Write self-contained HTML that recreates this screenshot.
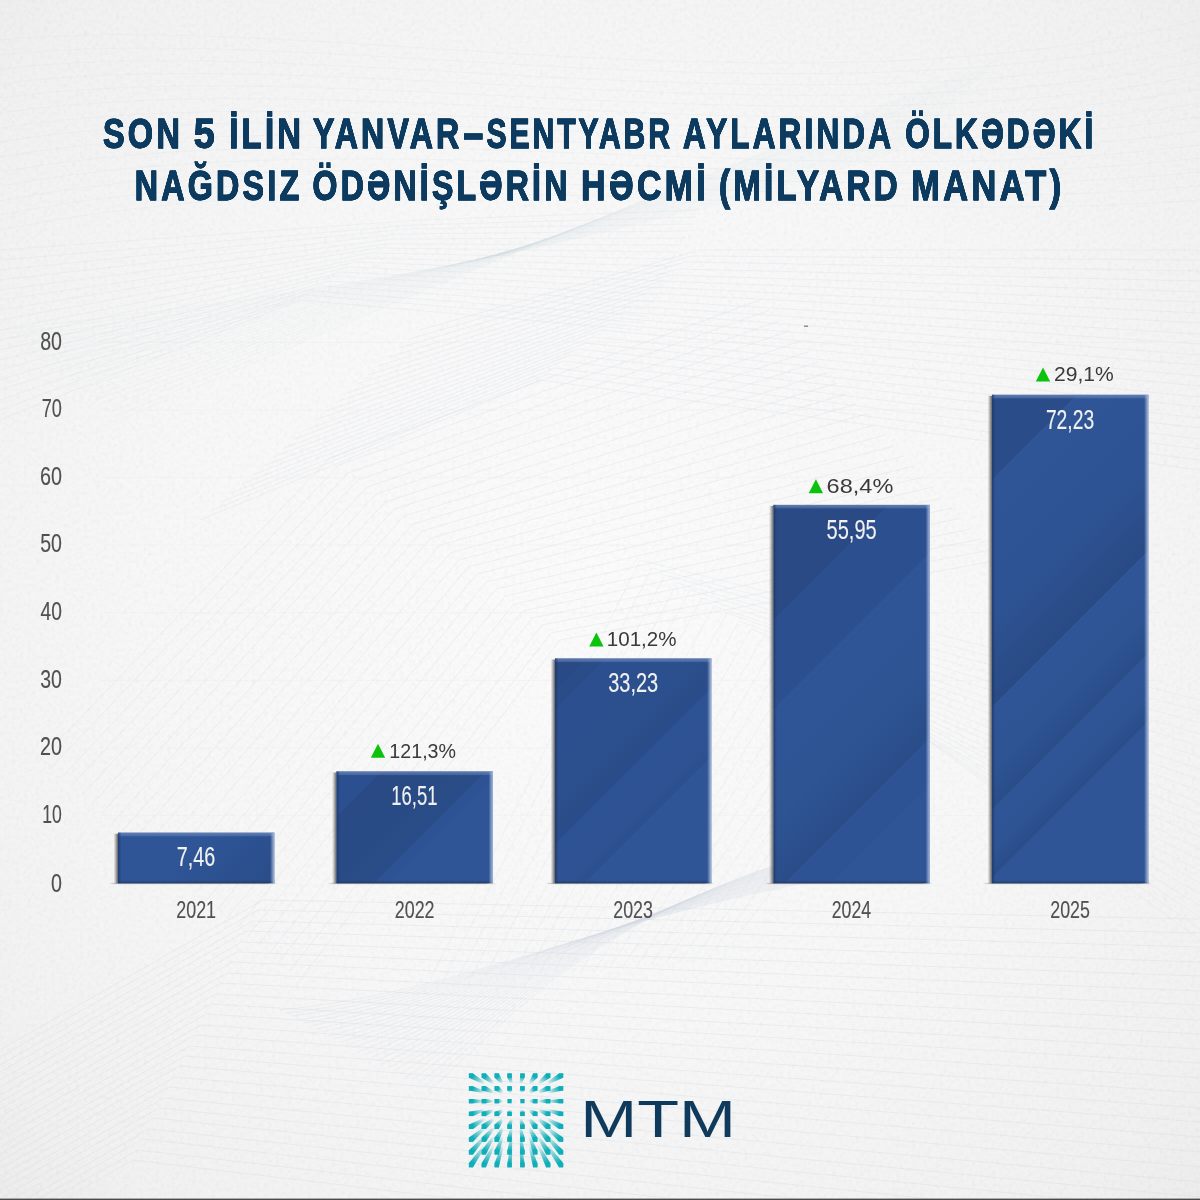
<!DOCTYPE html>
<html lang="az"><head><meta charset="utf-8"><title>Nağdsız ödənişlərin həcmi</title>
<style>
html,body{margin:0;padding:0;background:#f3f3f3;}
body{width:1200px;height:1200px;overflow:hidden;font-family:"Liberation Sans",sans-serif;}
svg{display:block}
text{font-family:"Liberation Sans",sans-serif}
.t{font-weight:700;fill:#0c3a5e;stroke:#0c3a5e;stroke-width:.8px;stroke-linejoin:miter}
.ax{fill:#505050;stroke:#505050;stroke-width:.15px}
.val{fill:#f1f1f1;stroke:#f1f1f1;stroke-width:.15px}
.pct{fill:#3a3a3a}
.logo{fill:#0f3a5b}
</style></head><body>
<svg width="1200" height="1200" viewBox="0 0 1200 1200">
<defs>
<radialGradient id="bg" cx="50%" cy="48%" r="75%">
<stop offset="0" stop-color="#fbfbfb"/><stop offset="0.5" stop-color="#f7f7f7"/><stop offset="0.85" stop-color="#f1f1f1"/><stop offset="1" stop-color="#ebebeb"/>
</radialGradient>
<linearGradient id="bevR" x1="0" x2="1" y1="0" y2="0"><stop offset="0" stop-color="#a9bbdd" stop-opacity="0"/><stop offset="1" stop-color="#a9bbdd" stop-opacity="1"/></linearGradient>
<linearGradient id="bevL" x1="0" x2="1" y1="0" y2="0"><stop offset="0" stop-color="#1b3566" stop-opacity=".75"/><stop offset="1" stop-color="#1b3566" stop-opacity="0"/></linearGradient>
<linearGradient id="bevT" x1="0" x2="0" y1="0" y2="1"><stop offset="0" stop-color="#6f8abb" stop-opacity=".8"/><stop offset="1" stop-color="#6f8abb" stop-opacity=".35"/></linearGradient>
<linearGradient id="bevB" x1="0" x2="0" y1="0" y2="1"><stop offset="0" stop-color="#1b3566" stop-opacity="0"/><stop offset="1" stop-color="#1b3566" stop-opacity=".7"/></linearGradient>
<linearGradient id="shL" x1="0" x2="1" y1="0" y2="0"><stop offset="0" stop-color="#4a4a4a" stop-opacity="0"/><stop offset=".35" stop-color="#4a4a4a" stop-opacity=".25"/><stop offset="1" stop-color="#4a4a4a" stop-opacity=".85"/></linearGradient>
<linearGradient id="base" x1="0" x2="1" y1="0" y2="0"><stop offset="0" stop-color="#777" stop-opacity="0"/><stop offset=".06" stop-color="#777" stop-opacity=".8"/><stop offset=".94" stop-color="#777" stop-opacity=".8"/><stop offset="1" stop-color="#777" stop-opacity="0"/></linearGradient>
<filter id="thick" x="-2%" y="-20%" width="104%" height="140%"><feOffset dx="0.4" result="a"/><feOffset in="SourceGraphic" dx="-0.4" result="b"/><feMerge><feMergeNode in="a"/><feMergeNode in="b"/><feMergeNode in="SourceGraphic"/></feMerge></filter>
<filter id="paper" x="0" y="0" width="100%" height="100%"><feTurbulence type="fractalNoise" baseFrequency="0.25" numOctaves="3" seed="7" result="n"/><feColorMatrix in="n" type="matrix" values="0 0 0 0 0  0 0 0 0 0  0 0 0 0 0  .4 .4 .4 0 -.5"/></filter>
</defs>
<rect width="1200" height="1200" fill="url(#bg)"/>
<rect width="1200" height="1200" filter="url(#paper)" opacity=".07"/>
<g fill="none" stroke="#d3dae2" stroke-width=".8">
<path d="M0 1050L263 900L1200 919M0 1057L258 910L1200 933M0 1065L253 921L1200 947M0 1072L247 931L1200 962M0 1080L242 942L1200 976M0 1087L237 952L1200 991M0 1095L232 962L1200 1005M0 1102L227 973L1200 1020M0 1109L221 983L1200 1034M0 1117L216 994L1200 1049M0 1124L211 1004L1200 1063M0 1132L206 1014L1200 1078M0 1139L201 1025L1200 1093M0 1147L195 1035L1200 1108M0 1154L190 1046L1200 1122M0 1161L185 1056L1200 1137M0 1169L180 1066L1200 1152M0 1176L175 1077L1200 1167M0 1184L169 1087L1200 1182M0 1191L164 1098L1200 1197M0 1199L159 1108L1200 1212M0 1206L154 1118L1200 1227M0 1214L149 1129L1200 1242M0 1221L143 1139L1200 1258M0 1228L138 1150L1200 1273M0 1236L133 1160L1200 1288" opacity=".45"/>
<path d="M40 760L330 458L760 300M50 769L339 465L770 310M61 778L348 473L779 321M71 786L358 480L789 331M82 795L367 487L798 342M92 804L376 494L808 352M102 813L385 502L818 362M113 822L394 509L827 373M123 830L404 516L837 383M134 839L413 524L846 394M144 848L422 531L856 404M154 857L431 538L866 414M165 866L440 545L875 425M175 874L450 553L885 435M186 883L459 560L894 446M196 892L468 567L904 456M206 901L477 574L914 466M217 910L486 582L923 477M227 918L496 589L933 487M238 927L505 596L942 498M248 936L514 604L952 508M258 945L523 611L962 518M269 954L532 618L971 529M279 962L542 625L981 539M290 971L551 633L990 550M300 980L560 640L1000 560" opacity="0.4"/>
<path d="M200 520L540 380L1200 470M210 511L548 374L1200 460M221 502L555 368L1200 449M231 493L563 361L1200 439M242 484L570 355L1200 428M252 475L578 349L1200 418M263 466L586 343L1200 407M273 457L593 337L1200 397M284 448L601 330L1200 386M294 439L609 324L1200 376M305 430L616 318L1200 365M315 420L624 312L1200 355M326 411L631 306L1200 344M336 402L639 300L1200 334M347 393L647 293L1200 323M357 384L654 287L1200 313M368 375L662 281L1200 302M378 366L670 275L1200 292M389 357L677 269L1200 281M399 348L685 262L1200 271M410 339L692 256L1200 260M420 330L700 250L1200 250" opacity="0.36"/>
<path d="M430 980L640 560L1200 700M444 979L652 568L1200 711M458 978L665 575L1200 723M471 977L677 583L1200 734M485 976L690 590L1200 746M499 975L702 598L1200 757M513 974L714 606L1200 769M527 973L727 613L1200 780M540 972L739 621L1200 791M554 971L751 629L1200 803M568 970L764 636L1200 814M582 970L776 644L1200 826M596 969L789 651L1200 837M610 968L801 659L1200 849M623 967L813 667L1200 860M637 966L826 674L1200 871M651 965L838 682L1200 883M665 964L850 690L1200 894M679 963L863 697L1200 906M692 962L875 705L1200 917M706 961L888 712L1200 929M720 960L900 720L1200 940" opacity="0.32"/>
<path d="M0 420L300 300L640 330M0 410L307 295L644 323M0 400L314 291L647 316M0 390L321 286L651 309M0 380L328 281L654 302M0 370L335 276L658 295M0 360L342 272L661 288M0 350L349 267L665 281M0 340L356 262L668 274M0 330L364 258L672 266M0 320L371 253L675 259M0 310L378 248L679 252M0 300L385 244L682 245M0 290L392 239L686 238M0 280L399 234L689 231M0 270L406 229L693 224M0 260L413 225L696 217M0 250L420 220L700 210" opacity="0.3"/>
<path d="M0 330C260 300 520 270 900 150M5 334C263 301 522 268 904 146M10 338C266 303 523 267 909 142M16 342C269 304 525 265 913 138M21 346C272 305 527 263 917 134M26 350C275 307 529 261 922 130M31 353C278 308 530 260 926 127M37 357C281 309 532 258 930 123M42 361C284 310 534 256 935 119M47 365C287 312 536 254 939 115M52 369C290 313 537 253 943 111M57 373C293 314 539 251 948 107M63 377C297 316 541 249 952 103M68 381C300 317 543 247 957 99M73 385C303 318 544 246 961 95M78 389C306 320 546 244 965 91M83 393C309 321 548 242 970 87M89 397C312 322 550 240 974 83M94 400C315 323 551 239 978 80M99 404C318 325 553 237 983 76M104 408C321 326 555 235 987 72M110 412C324 327 557 233 991 68M115 416C327 329 558 232 996 64M120 420C330 330 560 230 1000 60" opacity="0.22"/>
<path d="M280 1010C470 990 560 930 820 880M286 1013C472 991 562 929 823 878M292 1016C474 992 563 928 826 876M298 1020C476 992 565 926 830 874M304 1023C478 993 566 925 833 872M310 1026C480 994 568 924 836 870M316 1029C482 995 570 923 839 868M322 1032C484 996 571 922 842 866M328 1036C486 996 573 920 846 864M334 1039C488 997 574 919 849 862M340 1042C490 998 576 918 852 860M346 1045C492 999 578 917 855 858M352 1048C494 1000 579 916 858 856M358 1052C496 1000 581 914 862 854M364 1055C498 1001 582 913 865 852M370 1058C500 1002 584 912 868 850M376 1061C502 1003 586 911 871 848M382 1064C504 1004 587 910 874 846M388 1068C506 1004 589 908 878 844M394 1071C508 1005 590 907 881 842M400 1074C510 1006 592 906 884 840M406 1077C512 1007 594 905 887 838M412 1080C514 1008 595 904 890 836M418 1084C516 1008 597 902 894 834M424 1087C518 1009 598 901 897 832M430 1090C520 1010 600 900 900 830" opacity="0.4"/>
<path d="M0 40C300 10 800 120 1200 20M0 55C308 21 800 128 1200 34M0 69C315 32 800 137 1200 48M0 84C323 42 800 145 1200 62M0 98C331 53 800 154 1200 75M0 113C338 64 800 162 1200 89M0 128C346 75 800 171 1200 103M0 142C354 85 800 179 1200 117M0 157C362 96 800 188 1200 131M0 172C369 107 800 196 1200 145M0 186C377 118 800 205 1200 158M0 201C385 128 800 213 1200 172M0 215C392 139 800 222 1200 186M0 230C400 150 800 230 1200 200" opacity="0.25"/>
</g>
<g class="t" filter="url(#thick)">
<text transform="translate(102.92,147.60) scale(0.7741,1)" font-size="42.00" letter-spacing="4.20">SON</text>
<text transform="translate(193.67,147.60) scale(0.8997,1)" font-size="42.00">5</text>
<text transform="translate(229.18,147.60) scale(0.7821,1)" font-size="42.00" letter-spacing="4.20">İLİN</text>
<text transform="translate(313.04,147.60) scale(0.7642,1)" font-size="42.00" letter-spacing="4.20">YANVAR</text>
<text transform="translate(462.09,147.60) scale(1.6124,1)" font-size="42.00">-</text>
<text transform="translate(486.40,147.60) scale(0.7158,1)" font-size="42.00" letter-spacing="4.20">SENTYABR</text>
<text transform="translate(683.11,147.60) scale(0.7505,1)" font-size="42.00" letter-spacing="4.20">AYLARINDA</text>
<text transform="translate(905.14,147.60) scale(0.7482,1)" font-size="42.00" letter-spacing="4.20">ÖLKƏDƏKİ</text>
<text transform="translate(134.72,199.80) scale(0.7683,1)" font-size="42.00" letter-spacing="4.20">NAĞDSIZ</text>
<text transform="translate(312.62,199.80) scale(0.7627,1)" font-size="42.00" letter-spacing="4.20">ÖDƏNİŞLƏRİN</text>
<text transform="translate(581.12,199.80) scale(0.8060,1)" font-size="42.00" letter-spacing="4.20">HƏCMİ</text>
<text transform="translate(718.95,199.80) scale(0.7870,1)" font-size="42.00" letter-spacing="4.20">(MİLYARD</text>
<text transform="translate(911.28,199.80) scale(0.8168,1)" font-size="42.00" letter-spacing="4.20">MANAT)</text>
</g>
<g class="ax">
<text transform="translate(51.01,891.50) scale(0.7738,1)" font-size="25.44">0</text>
<text transform="translate(42.28,822.80) scale(0.6935,1)" font-size="25.44">10</text>
<text transform="translate(40.01,755.20) scale(0.7765,1)" font-size="25.44">20</text>
<text transform="translate(40.27,687.60) scale(0.7671,1)" font-size="25.44">30</text>
<text transform="translate(40.57,620.00) scale(0.7562,1)" font-size="25.44">40</text>
<text transform="translate(40.22,552.40) scale(0.7690,1)" font-size="25.44">50</text>
<text transform="translate(40.01,484.80) scale(0.7765,1)" font-size="25.44">60</text>
<text transform="translate(41.75,417.20) scale(0.7129,1)" font-size="25.44">70</text>
<text transform="translate(40.17,349.60) scale(0.7708,1)" font-size="25.44">80</text>
</g>
<rect x="100" y="815.0" width="1060" height="1" fill="#dfe3e6" opacity=".18"/>
<rect x="100" y="747.4" width="1060" height="1" fill="#dfe3e6" opacity=".18"/>
<rect x="100" y="679.8" width="1060" height="1" fill="#dfe3e6" opacity=".18"/>
<rect x="100" y="612.2" width="1060" height="1" fill="#dfe3e6" opacity=".18"/>
<rect x="100" y="544.6" width="1060" height="1" fill="#dfe3e6" opacity=".18"/>
<rect x="100" y="477.0" width="1060" height="1" fill="#dfe3e6" opacity=".18"/>
<rect x="100" y="409.4" width="1060" height="1" fill="#dfe3e6" opacity=".18"/>
<rect x="100" y="341.8" width="1060" height="1" fill="#dfe3e6" opacity=".18"/>
<rect x="113.5" y="833.7" width="4.5" height="49.4" fill="url(#shL)"/>
<rect x="109.0" y="882.9" width="168.3" height="1.2" fill="url(#base)"/>
<linearGradient id="g2021" gradientUnits="userSpaceOnUse" x1="475.3" y1="475.3" x2="578.7" y2="578.7"><stop offset="0.0000" stop-color="#2f5597"/><stop offset="0.4321" stop-color="#2f5597"/><stop offset="0.4321" stop-color="#2f5597"/><stop offset="1.0000" stop-color="#2a4d89"/></linearGradient>
<rect x="118.0" y="832.7" width="156.3" height="50.4" fill="url(#g2021)"/>
<rect x="118.0" y="832.7" width="156.3" height="3.6" fill="url(#bevT)"/>
<rect x="118.0" y="880.1" width="156.3" height="3" fill="url(#bevB)"/>
<rect x="118.0" y="832.7" width="3.5" height="50.4" fill="url(#bevL)"/>
<rect x="270.1" y="832.7" width="4.2" height="50.4" fill="url(#bevR)"/>
<text class="val" transform="translate(176.81,866.40) scale(0.7141,1)" font-size="27.70">7,46</text>
<text class="ax" transform="translate(176.26,918.40) scale(0.7442,1)" font-size="24.03">2021</text>
<rect x="332.0" y="772.5" width="4.5" height="110.6" fill="url(#shL)"/>
<rect x="327.5" y="882.9" width="168.3" height="1.2" fill="url(#base)"/>
<linearGradient id="g2022" gradientUnits="userSpaceOnUse" x1="554.0" y1="554.0" x2="688.0" y2="688.0"><stop offset="0.0000" stop-color="#2c508f"/><stop offset="0.1680" stop-color="#2c508f"/><stop offset="0.1680" stop-color="#294a84"/><stop offset="0.4009" stop-color="#294b85"/><stop offset="0.4009" stop-color="#294b85"/><stop offset="0.5562" stop-color="#2a4d89"/><stop offset="0.5562" stop-color="#2e5394"/><stop offset="0.6122" stop-color="#2e5394"/><stop offset="0.6122" stop-color="#2f5597"/><stop offset="1.0000" stop-color="#2f5597"/></linearGradient>
<rect x="336.5" y="771.5" width="156.3" height="111.6" fill="url(#g2022)"/>
<rect x="336.5" y="771.5" width="156.3" height="3.6" fill="url(#bevT)"/>
<rect x="336.5" y="880.1" width="156.3" height="3" fill="url(#bevB)"/>
<rect x="336.5" y="771.5" width="3.5" height="111.6" fill="url(#bevL)"/>
<rect x="488.6" y="771.5" width="4.2" height="111.6" fill="url(#bevR)"/>
<text class="val" transform="translate(391.26,805.22) scale(0.6673,1)" font-size="27.70">16,51</text>
<text class="ax" transform="translate(394.75,918.40) scale(0.7451,1)" font-size="24.03">2022</text>
<rect x="550.5" y="659.5" width="4.5" height="223.6" fill="url(#shL)"/>
<rect x="546.0" y="882.9" width="168.3" height="1.2" fill="url(#base)"/>
<linearGradient id="g2023" gradientUnits="userSpaceOnUse" x1="606.7" y1="606.7" x2="797.2" y2="797.2"><stop offset="0.0000" stop-color="#294a84"/><stop offset="0.0828" stop-color="#294a84"/><stop offset="0.0828" stop-color="#2a4d89"/><stop offset="0.1353" stop-color="#2a4d89"/><stop offset="0.1353" stop-color="#2c508f"/><stop offset="0.3479" stop-color="#2c4f8e"/><stop offset="0.3479" stop-color="#2c4f8e"/><stop offset="0.4897" stop-color="#2a4d89"/><stop offset="0.4897" stop-color="#2e5394"/><stop offset="0.5968" stop-color="#2e5293"/><stop offset="0.5968" stop-color="#2e5293"/><stop offset="0.6682" stop-color="#2c508f"/><stop offset="0.6682" stop-color="#2f5597"/><stop offset="1.0000" stop-color="#2f5597"/></linearGradient>
<rect x="555.0" y="658.5" width="156.3" height="224.6" fill="url(#g2023)"/>
<rect x="555.0" y="658.5" width="156.3" height="3.6" fill="url(#bevT)"/>
<rect x="555.0" y="880.1" width="156.3" height="3" fill="url(#bevB)"/>
<rect x="555.0" y="658.5" width="3.5" height="224.6" fill="url(#bevL)"/>
<rect x="707.1" y="658.5" width="4.2" height="224.6" fill="url(#bevR)"/>
<text class="val" transform="translate(608.15,692.19) scale(0.7227,1)" font-size="27.70">33,23</text>
<text class="ax" transform="translate(613.26,918.40) scale(0.7425,1)" font-size="24.03">2023</text>
<rect x="769.0" y="505.9" width="4.5" height="377.2" fill="url(#shL)"/>
<rect x="764.5" y="882.9" width="168.3" height="1.2" fill="url(#base)"/>
<linearGradient id="g2024" gradientUnits="userSpaceOnUse" x1="639.2" y1="639.2" x2="906.5" y2="906.5"><stop offset="0.0000" stop-color="#294a84"/><stop offset="0.2144" stop-color="#294a84"/><stop offset="0.2144" stop-color="#2c508f"/><stop offset="0.3809" stop-color="#2c508f"/><stop offset="0.3809" stop-color="#2f5597"/><stop offset="0.5886" stop-color="#2e5494"/><stop offset="0.5886" stop-color="#2e5494"/><stop offset="0.7270" stop-color="#2a4d89"/><stop offset="0.7270" stop-color="#2e5394"/><stop offset="0.8168" stop-color="#2e5394"/><stop offset="0.8168" stop-color="#2f5597"/><stop offset="1.0000" stop-color="#2f5597"/></linearGradient>
<rect x="773.5" y="504.9" width="156.3" height="378.2" fill="url(#g2024)"/>
<rect x="773.5" y="504.9" width="156.3" height="3.6" fill="url(#bevT)"/>
<rect x="773.5" y="880.1" width="156.3" height="3" fill="url(#bevB)"/>
<rect x="773.5" y="504.9" width="3.5" height="378.2" fill="url(#bevL)"/>
<rect x="925.6" y="504.9" width="4.2" height="378.2" fill="url(#bevR)"/>
<text class="val" transform="translate(826.60,538.60) scale(0.7227,1)" font-size="27.70">55,95</text>
<text class="ax" transform="translate(831.76,918.40) scale(0.7373,1)" font-size="24.03">2024</text>
<rect x="987.5" y="395.8" width="4.5" height="487.3" fill="url(#shL)"/>
<rect x="983.0" y="882.9" width="168.3" height="1.2" fill="url(#base)"/>
<linearGradient id="g2025" gradientUnits="userSpaceOnUse" x1="693.4" y1="693.4" x2="1015.7" y2="1015.7"><stop offset="0.0000" stop-color="#2a4d89"/><stop offset="0.1321" stop-color="#2a4d89"/><stop offset="0.1321" stop-color="#2f5597"/><stop offset="0.3434" stop-color="#2e5394"/><stop offset="0.3434" stop-color="#2e5394"/><stop offset="0.4843" stop-color="#294a84"/><stop offset="0.4843" stop-color="#2f5597"/><stop offset="0.5793" stop-color="#2e5494"/><stop offset="0.5793" stop-color="#2e5494"/><stop offset="0.6426" stop-color="#2a4d89"/><stop offset="0.6426" stop-color="#2f5597"/><stop offset="0.7068" stop-color="#2e5494"/><stop offset="0.7068" stop-color="#2e5494"/><stop offset="0.7496" stop-color="#2a4d89"/><stop offset="0.7496" stop-color="#2f5597"/><stop offset="1.0000" stop-color="#2f5597"/></linearGradient>
<rect x="992.0" y="394.8" width="156.3" height="488.3" fill="url(#g2025)"/>
<rect x="992.0" y="394.8" width="156.3" height="3.6" fill="url(#bevT)"/>
<rect x="992.0" y="880.1" width="156.3" height="3" fill="url(#bevB)"/>
<rect x="992.0" y="394.8" width="3.5" height="488.3" fill="url(#bevL)"/>
<rect x="1144.1" y="394.8" width="4.2" height="488.3" fill="url(#bevR)"/>
<text class="val" transform="translate(1045.89,428.55) scale(0.6972,1)" font-size="27.70">72,23</text>
<text class="ax" transform="translate(1050.26,918.40) scale(0.7416,1)" font-size="24.03">2025</text>
<text class="pct" transform="translate(389.33,757.50) scale(0.9400,1)" font-size="20.92">121,3%</text>
<path d="M370.8 757.8 l7.2 -14 l7.2 14z" fill="#0dc20d"/>
<text class="pct" transform="translate(606.76,646.30) scale(0.9838,1)" font-size="20.92">101,2%</text>
<path d="M589.2 646.6 l7.2 -14 l7.2 14z" fill="#0dc20d"/>
<text class="pct" transform="translate(826.62,493.00) scale(1.1247,1)" font-size="20.92">68,4%</text>
<path d="M808.7 493.3 l7.2 -14 l7.2 14z" fill="#0dc20d"/>
<text class="pct" transform="translate(1053.95,381.30) scale(1.0082,1)" font-size="20.92">29,1%</text>
<path d="M1035.8 381.6 l7.2 -14 l7.2 14z" fill="#0dc20d"/>
<g id="mark">
<linearGradient id="m1" gradientUnits="userSpaceOnUse" x1="471.0" y1="1075.6" x2="484.9" y2="1083.5"><stop offset="0" stop-color="#10aeb8"/><stop offset=".12" stop-color="#10aeb8"/><stop offset="1" stop-color="#10aeb8" stop-opacity="0"/></linearGradient>
<polygon points="468.9,1073.4 473.1,1073.4 485.8,1082.7 485.8,1084.4 484.1,1084.4 468.9,1077.8" fill="url(#m1)"/>
<rect x="468.9" y="1073.4" width="4.3" height="4.3" fill="#10aeb8"/>
<linearGradient id="m2" gradientUnits="userSpaceOnUse" x1="483.9" y1="1075.6" x2="493.8" y2="1083.5"><stop offset="0" stop-color="#10aeb8"/><stop offset=".12" stop-color="#10aeb8"/><stop offset="1" stop-color="#10aeb8" stop-opacity="0"/></linearGradient>
<polygon points="481.7,1073.4 486.0,1073.4 494.6,1082.7 494.6,1084.4 493.0,1084.4 481.7,1077.8" fill="url(#m2)"/>
<rect x="481.7" y="1073.4" width="4.3" height="4.3" fill="#10aeb8"/>
<linearGradient id="m3" gradientUnits="userSpaceOnUse" x1="496.7" y1="1075.6" x2="502.7" y2="1083.5"><stop offset="0" stop-color="#10aeb8"/><stop offset=".12" stop-color="#10aeb8"/><stop offset="1" stop-color="#10aeb8" stop-opacity="0"/></linearGradient>
<polygon points="494.6,1073.4 498.9,1073.4 503.5,1082.7 503.5,1084.4 501.9,1084.4 494.6,1077.8" fill="url(#m3)"/>
<rect x="494.6" y="1073.4" width="4.3" height="4.3" fill="#10aeb8"/>
<linearGradient id="m4" gradientUnits="userSpaceOnUse" x1="509.6" y1="1075.6" x2="511.6" y2="1083.5"><stop offset="0" stop-color="#10aeb8"/><stop offset=".12" stop-color="#10aeb8"/><stop offset="1" stop-color="#10aeb8" stop-opacity="0"/></linearGradient>
<polygon points="507.4,1073.4 511.7,1073.4 512.4,1082.7 512.4,1084.4 510.8,1084.4 507.4,1077.8" fill="url(#m4)"/>
<rect x="507.4" y="1073.4" width="4.3" height="4.3" fill="#10aeb8"/>
<linearGradient id="m5" gradientUnits="userSpaceOnUse" x1="522.4" y1="1075.6" x2="520.4" y2="1083.5"><stop offset="0" stop-color="#10aeb8"/><stop offset=".12" stop-color="#10aeb8"/><stop offset="1" stop-color="#10aeb8" stop-opacity="0"/></linearGradient>
<polygon points="519.6,1082.7 520.3,1073.4 524.6,1073.4 524.6,1077.8 521.3,1084.4 519.6,1084.4" fill="url(#m5)"/>
<rect x="520.3" y="1073.4" width="4.3" height="4.3" fill="#10aeb8"/>
<linearGradient id="m6" gradientUnits="userSpaceOnUse" x1="535.3" y1="1075.6" x2="529.3" y2="1083.5"><stop offset="0" stop-color="#10aeb8"/><stop offset=".12" stop-color="#10aeb8"/><stop offset="1" stop-color="#10aeb8" stop-opacity="0"/></linearGradient>
<polygon points="528.5,1082.7 533.1,1073.4 537.4,1073.4 537.4,1077.8 530.1,1084.4 528.5,1084.4" fill="url(#m6)"/>
<rect x="533.1" y="1073.4" width="4.3" height="4.3" fill="#10aeb8"/>
<linearGradient id="m7" gradientUnits="userSpaceOnUse" x1="548.2" y1="1075.6" x2="538.2" y2="1083.5"><stop offset="0" stop-color="#10aeb8"/><stop offset=".12" stop-color="#10aeb8"/><stop offset="1" stop-color="#10aeb8" stop-opacity="0"/></linearGradient>
<polygon points="537.4,1082.7 546.0,1073.4 550.3,1073.4 550.3,1077.8 539.0,1084.4 537.4,1084.4" fill="url(#m7)"/>
<rect x="546.0" y="1073.4" width="4.3" height="4.3" fill="#10aeb8"/>
<linearGradient id="m8" gradientUnits="userSpaceOnUse" x1="561.0" y1="1075.6" x2="547.1" y2="1083.5"><stop offset="0" stop-color="#10aeb8"/><stop offset=".12" stop-color="#10aeb8"/><stop offset="1" stop-color="#10aeb8" stop-opacity="0"/></linearGradient>
<polygon points="546.2,1082.7 558.9,1073.4 563.2,1073.4 563.2,1077.8 547.9,1084.4 546.2,1084.4" fill="url(#m8)"/>
<rect x="558.9" y="1073.4" width="4.3" height="4.3" fill="#10aeb8"/>
<linearGradient id="m9" gradientUnits="userSpaceOnUse" x1="471.0" y1="1088.4" x2="484.9" y2="1092.4"><stop offset="0" stop-color="#10aeb8"/><stop offset=".12" stop-color="#10aeb8"/><stop offset="1" stop-color="#10aeb8" stop-opacity="0"/></linearGradient>
<polygon points="468.9,1086.2 473.1,1086.2 485.8,1091.5 485.8,1093.2 484.1,1093.2 468.9,1090.5" fill="url(#m9)"/>
<rect x="468.9" y="1086.2" width="4.3" height="4.3" fill="#10aeb8"/>
<linearGradient id="m10" gradientUnits="userSpaceOnUse" x1="483.9" y1="1088.4" x2="493.8" y2="1092.4"><stop offset="0" stop-color="#10aeb8"/><stop offset=".12" stop-color="#10aeb8"/><stop offset="1" stop-color="#10aeb8" stop-opacity="0"/></linearGradient>
<polygon points="481.7,1086.2 486.0,1086.2 494.6,1091.5 494.6,1093.2 493.0,1093.2 481.7,1090.5" fill="url(#m10)"/>
<rect x="481.7" y="1086.2" width="4.3" height="4.3" fill="#10aeb8"/>
<linearGradient id="m11" gradientUnits="userSpaceOnUse" x1="496.7" y1="1088.4" x2="502.7" y2="1092.4"><stop offset="0" stop-color="#10aeb8"/><stop offset=".12" stop-color="#10aeb8"/><stop offset="1" stop-color="#10aeb8" stop-opacity="0"/></linearGradient>
<polygon points="494.6,1086.2 498.9,1086.2 503.5,1091.5 503.5,1093.2 501.9,1093.2 494.6,1090.5" fill="url(#m11)"/>
<rect x="494.6" y="1086.2" width="4.3" height="4.3" fill="#10aeb8"/>
<linearGradient id="m12" gradientUnits="userSpaceOnUse" x1="509.6" y1="1088.4" x2="511.6" y2="1092.4"><stop offset="0" stop-color="#10aeb8"/><stop offset=".12" stop-color="#10aeb8"/><stop offset="1" stop-color="#10aeb8" stop-opacity="0"/></linearGradient>
<polygon points="507.4,1086.2 511.7,1086.2 512.4,1091.5 512.4,1093.2 510.8,1093.2 507.4,1090.5" fill="url(#m12)"/>
<rect x="507.4" y="1086.2" width="4.3" height="4.3" fill="#10aeb8"/>
<linearGradient id="m13" gradientUnits="userSpaceOnUse" x1="522.4" y1="1088.4" x2="520.4" y2="1092.4"><stop offset="0" stop-color="#10aeb8"/><stop offset=".12" stop-color="#10aeb8"/><stop offset="1" stop-color="#10aeb8" stop-opacity="0"/></linearGradient>
<polygon points="519.6,1091.5 520.3,1086.2 524.6,1086.2 524.6,1090.5 521.3,1093.2 519.6,1093.2" fill="url(#m13)"/>
<rect x="520.3" y="1086.2" width="4.3" height="4.3" fill="#10aeb8"/>
<linearGradient id="m14" gradientUnits="userSpaceOnUse" x1="535.3" y1="1088.4" x2="529.3" y2="1092.4"><stop offset="0" stop-color="#10aeb8"/><stop offset=".12" stop-color="#10aeb8"/><stop offset="1" stop-color="#10aeb8" stop-opacity="0"/></linearGradient>
<polygon points="528.5,1091.5 533.1,1086.2 537.4,1086.2 537.4,1090.5 530.1,1093.2 528.5,1093.2" fill="url(#m14)"/>
<rect x="533.1" y="1086.2" width="4.3" height="4.3" fill="#10aeb8"/>
<linearGradient id="m15" gradientUnits="userSpaceOnUse" x1="548.2" y1="1088.4" x2="538.2" y2="1092.4"><stop offset="0" stop-color="#10aeb8"/><stop offset=".12" stop-color="#10aeb8"/><stop offset="1" stop-color="#10aeb8" stop-opacity="0"/></linearGradient>
<polygon points="537.4,1091.5 546.0,1086.2 550.3,1086.2 550.3,1090.5 539.0,1093.2 537.4,1093.2" fill="url(#m15)"/>
<rect x="546.0" y="1086.2" width="4.3" height="4.3" fill="#10aeb8"/>
<linearGradient id="m16" gradientUnits="userSpaceOnUse" x1="561.0" y1="1088.4" x2="547.1" y2="1092.4"><stop offset="0" stop-color="#10aeb8"/><stop offset=".12" stop-color="#10aeb8"/><stop offset="1" stop-color="#10aeb8" stop-opacity="0"/></linearGradient>
<polygon points="546.2,1091.5 558.9,1086.2 563.2,1086.2 563.2,1090.5 547.9,1093.2 546.2,1093.2" fill="url(#m16)"/>
<rect x="558.9" y="1086.2" width="4.3" height="4.3" fill="#10aeb8"/>
<linearGradient id="m17" gradientUnits="userSpaceOnUse" x1="471.0" y1="1101.2" x2="484.9" y2="1101.2"><stop offset="0" stop-color="#10aeb8"/><stop offset=".12" stop-color="#10aeb8"/><stop offset="1" stop-color="#10aeb8" stop-opacity="0"/></linearGradient>
<polygon points="468.9,1099.0 473.1,1099.0 485.8,1100.4 485.8,1102.0 473.1,1103.3 468.9,1103.3" fill="url(#m17)"/>
<rect x="468.9" y="1099.0" width="4.3" height="4.3" fill="#10aeb8"/>
<linearGradient id="m18" gradientUnits="userSpaceOnUse" x1="483.9" y1="1101.2" x2="493.8" y2="1101.2"><stop offset="0" stop-color="#10aeb8"/><stop offset=".12" stop-color="#10aeb8"/><stop offset="1" stop-color="#10aeb8" stop-opacity="0"/></linearGradient>
<polygon points="481.7,1099.0 486.0,1099.0 494.6,1100.4 494.6,1102.0 486.0,1103.3 481.7,1103.3" fill="url(#m18)"/>
<rect x="481.7" y="1099.0" width="4.3" height="4.3" fill="#10aeb8"/>
<linearGradient id="m19" gradientUnits="userSpaceOnUse" x1="496.7" y1="1101.2" x2="502.7" y2="1101.2"><stop offset="0" stop-color="#10aeb8"/><stop offset=".12" stop-color="#10aeb8"/><stop offset="1" stop-color="#10aeb8" stop-opacity="0"/></linearGradient>
<polygon points="494.6,1099.0 498.9,1099.0 503.5,1100.4 503.5,1102.0 498.9,1103.3 494.6,1103.3" fill="url(#m19)"/>
<rect x="494.6" y="1099.0" width="4.3" height="4.3" fill="#10aeb8"/>
<rect x="507.4" y="1099.0" width="4.3" height="4.3" fill="#10aeb8"/>
<rect x="520.3" y="1099.0" width="4.3" height="4.3" fill="#10aeb8"/>
<linearGradient id="m22" gradientUnits="userSpaceOnUse" x1="535.3" y1="1101.2" x2="529.3" y2="1101.2"><stop offset="0" stop-color="#10aeb8"/><stop offset=".12" stop-color="#10aeb8"/><stop offset="1" stop-color="#10aeb8" stop-opacity="0"/></linearGradient>
<polygon points="528.5,1100.4 533.1,1099.0 537.4,1099.0 537.4,1103.3 533.1,1103.3 528.5,1102.0" fill="url(#m22)"/>
<rect x="533.1" y="1099.0" width="4.3" height="4.3" fill="#10aeb8"/>
<linearGradient id="m23" gradientUnits="userSpaceOnUse" x1="548.2" y1="1101.2" x2="538.2" y2="1101.2"><stop offset="0" stop-color="#10aeb8"/><stop offset=".12" stop-color="#10aeb8"/><stop offset="1" stop-color="#10aeb8" stop-opacity="0"/></linearGradient>
<polygon points="537.4,1100.4 546.0,1099.0 550.3,1099.0 550.3,1103.3 546.0,1103.3 537.4,1102.0" fill="url(#m23)"/>
<rect x="546.0" y="1099.0" width="4.3" height="4.3" fill="#10aeb8"/>
<linearGradient id="m24" gradientUnits="userSpaceOnUse" x1="561.0" y1="1101.2" x2="547.1" y2="1101.2"><stop offset="0" stop-color="#10aeb8"/><stop offset=".12" stop-color="#10aeb8"/><stop offset="1" stop-color="#10aeb8" stop-opacity="0"/></linearGradient>
<polygon points="546.2,1100.4 558.9,1099.0 563.2,1099.0 563.2,1103.3 558.9,1103.3 546.2,1102.0" fill="url(#m24)"/>
<rect x="558.9" y="1099.0" width="4.3" height="4.3" fill="#10aeb8"/>
<linearGradient id="m25" gradientUnits="userSpaceOnUse" x1="471.0" y1="1114.0" x2="484.9" y2="1110.0"><stop offset="0" stop-color="#10aeb8"/><stop offset=".12" stop-color="#10aeb8"/><stop offset="1" stop-color="#10aeb8" stop-opacity="0"/></linearGradient>
<polygon points="468.9,1111.8 484.1,1109.2 485.8,1109.2 485.8,1110.8 473.1,1116.1 468.9,1116.1" fill="url(#m25)"/>
<rect x="468.9" y="1111.8" width="4.3" height="4.3" fill="#10aeb8"/>
<linearGradient id="m26" gradientUnits="userSpaceOnUse" x1="483.9" y1="1114.0" x2="493.8" y2="1110.0"><stop offset="0" stop-color="#10aeb8"/><stop offset=".12" stop-color="#10aeb8"/><stop offset="1" stop-color="#10aeb8" stop-opacity="0"/></linearGradient>
<polygon points="481.7,1111.8 493.0,1109.2 494.6,1109.2 494.6,1110.8 486.0,1116.1 481.7,1116.1" fill="url(#m26)"/>
<rect x="481.7" y="1111.8" width="4.3" height="4.3" fill="#10aeb8"/>
<linearGradient id="m27" gradientUnits="userSpaceOnUse" x1="496.7" y1="1114.0" x2="502.7" y2="1110.0"><stop offset="0" stop-color="#10aeb8"/><stop offset=".12" stop-color="#10aeb8"/><stop offset="1" stop-color="#10aeb8" stop-opacity="0"/></linearGradient>
<polygon points="494.6,1111.8 501.9,1109.2 503.5,1109.2 503.5,1110.8 498.9,1116.1 494.6,1116.1" fill="url(#m27)"/>
<rect x="494.6" y="1111.8" width="4.3" height="4.3" fill="#10aeb8"/>
<linearGradient id="m28" gradientUnits="userSpaceOnUse" x1="509.6" y1="1114.0" x2="511.6" y2="1110.0"><stop offset="0" stop-color="#10aeb8"/><stop offset=".12" stop-color="#10aeb8"/><stop offset="1" stop-color="#10aeb8" stop-opacity="0"/></linearGradient>
<polygon points="507.4,1111.8 510.8,1109.2 512.4,1109.2 512.4,1110.8 511.7,1116.1 507.4,1116.1" fill="url(#m28)"/>
<rect x="507.4" y="1111.8" width="4.3" height="4.3" fill="#10aeb8"/>
<linearGradient id="m29" gradientUnits="userSpaceOnUse" x1="522.4" y1="1114.0" x2="520.4" y2="1110.0"><stop offset="0" stop-color="#10aeb8"/><stop offset=".12" stop-color="#10aeb8"/><stop offset="1" stop-color="#10aeb8" stop-opacity="0"/></linearGradient>
<polygon points="519.6,1109.2 521.3,1109.2 524.6,1111.8 524.6,1116.1 520.3,1116.1 519.6,1110.8" fill="url(#m29)"/>
<rect x="520.3" y="1111.8" width="4.3" height="4.3" fill="#10aeb8"/>
<linearGradient id="m30" gradientUnits="userSpaceOnUse" x1="535.3" y1="1114.0" x2="529.3" y2="1110.0"><stop offset="0" stop-color="#10aeb8"/><stop offset=".12" stop-color="#10aeb8"/><stop offset="1" stop-color="#10aeb8" stop-opacity="0"/></linearGradient>
<polygon points="528.5,1109.2 530.1,1109.2 537.4,1111.8 537.4,1116.1 533.1,1116.1 528.5,1110.8" fill="url(#m30)"/>
<rect x="533.1" y="1111.8" width="4.3" height="4.3" fill="#10aeb8"/>
<linearGradient id="m31" gradientUnits="userSpaceOnUse" x1="548.2" y1="1114.0" x2="538.2" y2="1110.0"><stop offset="0" stop-color="#10aeb8"/><stop offset=".12" stop-color="#10aeb8"/><stop offset="1" stop-color="#10aeb8" stop-opacity="0"/></linearGradient>
<polygon points="537.4,1109.2 539.0,1109.2 550.3,1111.8 550.3,1116.1 546.0,1116.1 537.4,1110.8" fill="url(#m31)"/>
<rect x="546.0" y="1111.8" width="4.3" height="4.3" fill="#10aeb8"/>
<linearGradient id="m32" gradientUnits="userSpaceOnUse" x1="561.0" y1="1114.0" x2="547.1" y2="1110.0"><stop offset="0" stop-color="#10aeb8"/><stop offset=".12" stop-color="#10aeb8"/><stop offset="1" stop-color="#10aeb8" stop-opacity="0"/></linearGradient>
<polygon points="546.2,1109.2 547.9,1109.2 563.2,1111.8 563.2,1116.1 558.9,1116.1 546.2,1110.8" fill="url(#m32)"/>
<rect x="558.9" y="1111.8" width="4.3" height="4.3" fill="#10aeb8"/>
<linearGradient id="m33" gradientUnits="userSpaceOnUse" x1="471.0" y1="1126.8" x2="484.9" y2="1118.8"><stop offset="0" stop-color="#10aeb8"/><stop offset=".12" stop-color="#10aeb8"/><stop offset="1" stop-color="#10aeb8" stop-opacity="0"/></linearGradient>
<polygon points="468.9,1124.6 484.1,1118.0 485.8,1118.0 485.8,1119.7 473.1,1128.9 468.9,1128.9" fill="url(#m33)"/>
<rect x="468.9" y="1124.6" width="4.3" height="4.3" fill="#10aeb8"/>
<linearGradient id="m34" gradientUnits="userSpaceOnUse" x1="483.9" y1="1126.8" x2="493.8" y2="1118.8"><stop offset="0" stop-color="#10aeb8"/><stop offset=".12" stop-color="#10aeb8"/><stop offset="1" stop-color="#10aeb8" stop-opacity="0"/></linearGradient>
<polygon points="481.7,1124.6 493.0,1118.0 494.6,1118.0 494.6,1119.7 486.0,1128.9 481.7,1128.9" fill="url(#m34)"/>
<rect x="481.7" y="1124.6" width="4.3" height="4.3" fill="#10aeb8"/>
<linearGradient id="m35" gradientUnits="userSpaceOnUse" x1="496.7" y1="1126.8" x2="502.7" y2="1118.8"><stop offset="0" stop-color="#10aeb8"/><stop offset=".12" stop-color="#10aeb8"/><stop offset="1" stop-color="#10aeb8" stop-opacity="0"/></linearGradient>
<polygon points="494.6,1124.6 501.9,1118.0 503.5,1118.0 503.5,1119.7 498.9,1128.9 494.6,1128.9" fill="url(#m35)"/>
<rect x="494.6" y="1124.6" width="4.3" height="4.3" fill="#10aeb8"/>
<linearGradient id="m36" gradientUnits="userSpaceOnUse" x1="509.6" y1="1126.8" x2="511.6" y2="1118.8"><stop offset="0" stop-color="#10aeb8"/><stop offset=".12" stop-color="#10aeb8"/><stop offset="1" stop-color="#10aeb8" stop-opacity="0"/></linearGradient>
<polygon points="507.4,1124.6 510.8,1118.0 512.4,1118.0 512.4,1119.7 511.7,1128.9 507.4,1128.9" fill="url(#m36)"/>
<rect x="507.4" y="1124.6" width="4.3" height="4.3" fill="#10aeb8"/>
<linearGradient id="m37" gradientUnits="userSpaceOnUse" x1="522.4" y1="1126.8" x2="520.4" y2="1118.8"><stop offset="0" stop-color="#10aeb8"/><stop offset=".12" stop-color="#10aeb8"/><stop offset="1" stop-color="#10aeb8" stop-opacity="0"/></linearGradient>
<polygon points="519.6,1118.0 521.3,1118.0 524.6,1124.6 524.6,1128.9 520.3,1128.9 519.6,1119.7" fill="url(#m37)"/>
<rect x="520.3" y="1124.6" width="4.3" height="4.3" fill="#10aeb8"/>
<linearGradient id="m38" gradientUnits="userSpaceOnUse" x1="535.3" y1="1126.8" x2="529.3" y2="1118.8"><stop offset="0" stop-color="#10aeb8"/><stop offset=".12" stop-color="#10aeb8"/><stop offset="1" stop-color="#10aeb8" stop-opacity="0"/></linearGradient>
<polygon points="528.5,1118.0 530.1,1118.0 537.4,1124.6 537.4,1128.9 533.1,1128.9 528.5,1119.7" fill="url(#m38)"/>
<rect x="533.1" y="1124.6" width="4.3" height="4.3" fill="#10aeb8"/>
<linearGradient id="m39" gradientUnits="userSpaceOnUse" x1="548.2" y1="1126.8" x2="538.2" y2="1118.8"><stop offset="0" stop-color="#10aeb8"/><stop offset=".12" stop-color="#10aeb8"/><stop offset="1" stop-color="#10aeb8" stop-opacity="0"/></linearGradient>
<polygon points="537.4,1118.0 539.0,1118.0 550.3,1124.6 550.3,1128.9 546.0,1128.9 537.4,1119.7" fill="url(#m39)"/>
<rect x="546.0" y="1124.6" width="4.3" height="4.3" fill="#10aeb8"/>
<linearGradient id="m40" gradientUnits="userSpaceOnUse" x1="561.0" y1="1126.8" x2="547.1" y2="1118.8"><stop offset="0" stop-color="#10aeb8"/><stop offset=".12" stop-color="#10aeb8"/><stop offset="1" stop-color="#10aeb8" stop-opacity="0"/></linearGradient>
<polygon points="546.2,1118.0 547.9,1118.0 563.2,1124.6 563.2,1128.9 558.9,1128.9 546.2,1119.7" fill="url(#m40)"/>
<rect x="558.9" y="1124.6" width="4.3" height="4.3" fill="#10aeb8"/>
<linearGradient id="m41" gradientUnits="userSpaceOnUse" x1="471.0" y1="1139.5" x2="484.9" y2="1127.7"><stop offset="0" stop-color="#10aeb8"/><stop offset=".12" stop-color="#10aeb8"/><stop offset="1" stop-color="#10aeb8" stop-opacity="0"/></linearGradient>
<polygon points="468.9,1137.4 484.1,1126.8 485.8,1126.8 485.8,1128.5 473.1,1141.7 468.9,1141.7" fill="url(#m41)"/>
<rect x="468.9" y="1137.4" width="4.3" height="4.3" fill="#10aeb8"/>
<linearGradient id="m42" gradientUnits="userSpaceOnUse" x1="483.9" y1="1139.5" x2="493.8" y2="1127.7"><stop offset="0" stop-color="#10aeb8"/><stop offset=".12" stop-color="#10aeb8"/><stop offset="1" stop-color="#10aeb8" stop-opacity="0"/></linearGradient>
<polygon points="481.7,1137.4 493.0,1126.8 494.6,1126.8 494.6,1128.5 486.0,1141.7 481.7,1141.7" fill="url(#m42)"/>
<rect x="481.7" y="1137.4" width="4.3" height="4.3" fill="#10aeb8"/>
<linearGradient id="m43" gradientUnits="userSpaceOnUse" x1="496.7" y1="1139.5" x2="502.7" y2="1127.7"><stop offset="0" stop-color="#10aeb8"/><stop offset=".12" stop-color="#10aeb8"/><stop offset="1" stop-color="#10aeb8" stop-opacity="0"/></linearGradient>
<polygon points="494.6,1137.4 501.9,1126.8 503.5,1126.8 503.5,1128.5 498.9,1141.7 494.6,1141.7" fill="url(#m43)"/>
<rect x="494.6" y="1137.4" width="4.3" height="4.3" fill="#10aeb8"/>
<linearGradient id="m44" gradientUnits="userSpaceOnUse" x1="509.6" y1="1139.5" x2="511.6" y2="1127.7"><stop offset="0" stop-color="#10aeb8"/><stop offset=".12" stop-color="#10aeb8"/><stop offset="1" stop-color="#10aeb8" stop-opacity="0"/></linearGradient>
<polygon points="507.4,1137.4 510.8,1126.8 512.4,1126.8 512.4,1128.5 511.7,1141.7 507.4,1141.7" fill="url(#m44)"/>
<rect x="507.4" y="1137.4" width="4.3" height="4.3" fill="#10aeb8"/>
<linearGradient id="m45" gradientUnits="userSpaceOnUse" x1="522.4" y1="1139.5" x2="520.4" y2="1127.7"><stop offset="0" stop-color="#10aeb8"/><stop offset=".12" stop-color="#10aeb8"/><stop offset="1" stop-color="#10aeb8" stop-opacity="0"/></linearGradient>
<polygon points="519.6,1126.8 521.3,1126.8 524.6,1137.4 524.6,1141.7 520.3,1141.7 519.6,1128.5" fill="url(#m45)"/>
<rect x="520.3" y="1137.4" width="4.3" height="4.3" fill="#10aeb8"/>
<linearGradient id="m46" gradientUnits="userSpaceOnUse" x1="535.3" y1="1139.5" x2="529.3" y2="1127.7"><stop offset="0" stop-color="#10aeb8"/><stop offset=".12" stop-color="#10aeb8"/><stop offset="1" stop-color="#10aeb8" stop-opacity="0"/></linearGradient>
<polygon points="528.5,1126.8 530.1,1126.8 537.4,1137.4 537.4,1141.7 533.1,1141.7 528.5,1128.5" fill="url(#m46)"/>
<rect x="533.1" y="1137.4" width="4.3" height="4.3" fill="#10aeb8"/>
<linearGradient id="m47" gradientUnits="userSpaceOnUse" x1="548.2" y1="1139.5" x2="538.2" y2="1127.7"><stop offset="0" stop-color="#10aeb8"/><stop offset=".12" stop-color="#10aeb8"/><stop offset="1" stop-color="#10aeb8" stop-opacity="0"/></linearGradient>
<polygon points="537.4,1126.8 539.0,1126.8 550.3,1137.4 550.3,1141.7 546.0,1141.7 537.4,1128.5" fill="url(#m47)"/>
<rect x="546.0" y="1137.4" width="4.3" height="4.3" fill="#10aeb8"/>
<linearGradient id="m48" gradientUnits="userSpaceOnUse" x1="561.0" y1="1139.5" x2="547.1" y2="1127.7"><stop offset="0" stop-color="#10aeb8"/><stop offset=".12" stop-color="#10aeb8"/><stop offset="1" stop-color="#10aeb8" stop-opacity="0"/></linearGradient>
<polygon points="546.2,1126.8 547.9,1126.8 563.2,1137.4 563.2,1141.7 558.9,1141.7 546.2,1128.5" fill="url(#m48)"/>
<rect x="558.9" y="1137.4" width="4.3" height="4.3" fill="#10aeb8"/>
<linearGradient id="m49" gradientUnits="userSpaceOnUse" x1="471.0" y1="1152.3" x2="484.9" y2="1136.5"><stop offset="0" stop-color="#10aeb8"/><stop offset=".12" stop-color="#10aeb8"/><stop offset="1" stop-color="#10aeb8" stop-opacity="0"/></linearGradient>
<polygon points="468.9,1150.2 484.1,1135.7 485.8,1135.7 485.8,1137.3 473.1,1154.5 468.9,1154.5" fill="url(#m49)"/>
<rect x="468.9" y="1150.2" width="4.3" height="4.3" fill="#10aeb8"/>
<linearGradient id="m50" gradientUnits="userSpaceOnUse" x1="483.9" y1="1152.3" x2="493.8" y2="1136.5"><stop offset="0" stop-color="#10aeb8"/><stop offset=".12" stop-color="#10aeb8"/><stop offset="1" stop-color="#10aeb8" stop-opacity="0"/></linearGradient>
<polygon points="481.7,1150.2 493.0,1135.7 494.6,1135.7 494.6,1137.3 486.0,1154.5 481.7,1154.5" fill="url(#m50)"/>
<rect x="481.7" y="1150.2" width="4.3" height="4.3" fill="#10aeb8"/>
<linearGradient id="m51" gradientUnits="userSpaceOnUse" x1="496.7" y1="1152.3" x2="502.7" y2="1136.5"><stop offset="0" stop-color="#10aeb8"/><stop offset=".12" stop-color="#10aeb8"/><stop offset="1" stop-color="#10aeb8" stop-opacity="0"/></linearGradient>
<polygon points="494.6,1150.2 501.9,1135.7 503.5,1135.7 503.5,1137.3 498.9,1154.5 494.6,1154.5" fill="url(#m51)"/>
<rect x="494.6" y="1150.2" width="4.3" height="4.3" fill="#10aeb8"/>
<linearGradient id="m52" gradientUnits="userSpaceOnUse" x1="509.6" y1="1152.3" x2="511.6" y2="1136.5"><stop offset="0" stop-color="#10aeb8"/><stop offset=".12" stop-color="#10aeb8"/><stop offset="1" stop-color="#10aeb8" stop-opacity="0"/></linearGradient>
<polygon points="507.4,1150.2 510.8,1135.7 512.4,1135.7 512.4,1137.3 511.7,1154.5 507.4,1154.5" fill="url(#m52)"/>
<rect x="507.4" y="1150.2" width="4.3" height="4.3" fill="#10aeb8"/>
<linearGradient id="m53" gradientUnits="userSpaceOnUse" x1="522.4" y1="1152.3" x2="520.4" y2="1136.5"><stop offset="0" stop-color="#10aeb8"/><stop offset=".12" stop-color="#10aeb8"/><stop offset="1" stop-color="#10aeb8" stop-opacity="0"/></linearGradient>
<polygon points="519.6,1135.7 521.3,1135.7 524.6,1150.2 524.6,1154.5 520.3,1154.5 519.6,1137.3" fill="url(#m53)"/>
<rect x="520.3" y="1150.2" width="4.3" height="4.3" fill="#10aeb8"/>
<linearGradient id="m54" gradientUnits="userSpaceOnUse" x1="535.3" y1="1152.3" x2="529.3" y2="1136.5"><stop offset="0" stop-color="#10aeb8"/><stop offset=".12" stop-color="#10aeb8"/><stop offset="1" stop-color="#10aeb8" stop-opacity="0"/></linearGradient>
<polygon points="528.5,1135.7 530.1,1135.7 537.4,1150.2 537.4,1154.5 533.1,1154.5 528.5,1137.3" fill="url(#m54)"/>
<rect x="533.1" y="1150.2" width="4.3" height="4.3" fill="#10aeb8"/>
<linearGradient id="m55" gradientUnits="userSpaceOnUse" x1="548.2" y1="1152.3" x2="538.2" y2="1136.5"><stop offset="0" stop-color="#10aeb8"/><stop offset=".12" stop-color="#10aeb8"/><stop offset="1" stop-color="#10aeb8" stop-opacity="0"/></linearGradient>
<polygon points="537.4,1135.7 539.0,1135.7 550.3,1150.2 550.3,1154.5 546.0,1154.5 537.4,1137.3" fill="url(#m55)"/>
<rect x="546.0" y="1150.2" width="4.3" height="4.3" fill="#10aeb8"/>
<linearGradient id="m56" gradientUnits="userSpaceOnUse" x1="561.0" y1="1152.3" x2="547.1" y2="1136.5"><stop offset="0" stop-color="#10aeb8"/><stop offset=".12" stop-color="#10aeb8"/><stop offset="1" stop-color="#10aeb8" stop-opacity="0"/></linearGradient>
<polygon points="546.2,1135.7 547.9,1135.7 563.2,1150.2 563.2,1154.5 558.9,1154.5 546.2,1137.3" fill="url(#m56)"/>
<rect x="558.9" y="1150.2" width="4.3" height="4.3" fill="#10aeb8"/>
<linearGradient id="m57" gradientUnits="userSpaceOnUse" x1="471.0" y1="1165.1" x2="484.9" y2="1145.3"><stop offset="0" stop-color="#10aeb8"/><stop offset=".12" stop-color="#10aeb8"/><stop offset="1" stop-color="#10aeb8" stop-opacity="0"/></linearGradient>
<polygon points="468.9,1163.0 484.1,1144.5 485.8,1144.5 485.8,1146.1 473.1,1167.3 468.9,1167.3" fill="url(#m57)"/>
<rect x="468.9" y="1163.0" width="4.3" height="4.3" fill="#10aeb8"/>
<linearGradient id="m58" gradientUnits="userSpaceOnUse" x1="483.9" y1="1165.1" x2="493.8" y2="1145.3"><stop offset="0" stop-color="#10aeb8"/><stop offset=".12" stop-color="#10aeb8"/><stop offset="1" stop-color="#10aeb8" stop-opacity="0"/></linearGradient>
<polygon points="481.7,1163.0 493.0,1144.5 494.6,1144.5 494.6,1146.1 486.0,1167.3 481.7,1167.3" fill="url(#m58)"/>
<rect x="481.7" y="1163.0" width="4.3" height="4.3" fill="#10aeb8"/>
<linearGradient id="m59" gradientUnits="userSpaceOnUse" x1="496.7" y1="1165.1" x2="502.7" y2="1145.3"><stop offset="0" stop-color="#10aeb8"/><stop offset=".12" stop-color="#10aeb8"/><stop offset="1" stop-color="#10aeb8" stop-opacity="0"/></linearGradient>
<polygon points="494.6,1163.0 501.9,1144.5 503.5,1144.5 503.5,1146.1 498.9,1167.3 494.6,1167.3" fill="url(#m59)"/>
<rect x="494.6" y="1163.0" width="4.3" height="4.3" fill="#10aeb8"/>
<linearGradient id="m60" gradientUnits="userSpaceOnUse" x1="509.6" y1="1165.1" x2="511.6" y2="1145.3"><stop offset="0" stop-color="#10aeb8"/><stop offset=".12" stop-color="#10aeb8"/><stop offset="1" stop-color="#10aeb8" stop-opacity="0"/></linearGradient>
<polygon points="507.4,1163.0 510.8,1144.5 512.4,1144.5 512.4,1146.1 511.7,1167.3 507.4,1167.3" fill="url(#m60)"/>
<rect x="507.4" y="1163.0" width="4.3" height="4.3" fill="#10aeb8"/>
<linearGradient id="m61" gradientUnits="userSpaceOnUse" x1="522.4" y1="1165.1" x2="520.4" y2="1145.3"><stop offset="0" stop-color="#10aeb8"/><stop offset=".12" stop-color="#10aeb8"/><stop offset="1" stop-color="#10aeb8" stop-opacity="0"/></linearGradient>
<polygon points="519.6,1144.5 521.3,1144.5 524.6,1163.0 524.6,1167.3 520.3,1167.3 519.6,1146.1" fill="url(#m61)"/>
<rect x="520.3" y="1163.0" width="4.3" height="4.3" fill="#10aeb8"/>
<linearGradient id="m62" gradientUnits="userSpaceOnUse" x1="535.3" y1="1165.1" x2="529.3" y2="1145.3"><stop offset="0" stop-color="#10aeb8"/><stop offset=".12" stop-color="#10aeb8"/><stop offset="1" stop-color="#10aeb8" stop-opacity="0"/></linearGradient>
<polygon points="528.5,1144.5 530.1,1144.5 537.4,1163.0 537.4,1167.3 533.1,1167.3 528.5,1146.1" fill="url(#m62)"/>
<rect x="533.1" y="1163.0" width="4.3" height="4.3" fill="#10aeb8"/>
<linearGradient id="m63" gradientUnits="userSpaceOnUse" x1="548.2" y1="1165.1" x2="538.2" y2="1145.3"><stop offset="0" stop-color="#10aeb8"/><stop offset=".12" stop-color="#10aeb8"/><stop offset="1" stop-color="#10aeb8" stop-opacity="0"/></linearGradient>
<polygon points="537.4,1144.5 539.0,1144.5 550.3,1163.0 550.3,1167.3 546.0,1167.3 537.4,1146.1" fill="url(#m63)"/>
<rect x="546.0" y="1163.0" width="4.3" height="4.3" fill="#10aeb8"/>
<linearGradient id="m64" gradientUnits="userSpaceOnUse" x1="561.0" y1="1165.1" x2="547.1" y2="1145.3"><stop offset="0" stop-color="#10aeb8"/><stop offset=".12" stop-color="#10aeb8"/><stop offset="1" stop-color="#10aeb8" stop-opacity="0"/></linearGradient>
<polygon points="546.2,1144.5 547.9,1144.5 563.2,1163.0 563.2,1167.3 558.9,1167.3 546.2,1146.1" fill="url(#m64)"/>
<rect x="558.9" y="1163.0" width="4.3" height="4.3" fill="#10aeb8"/>
</g>
<text class="logo" transform="translate(580.16,1136.70) scale(1.3436,1)" font-size="50.91">MTM</text>
<rect x="804" y="325.6" width="4" height="1.2" fill="#555" opacity=".8"/>
<rect x="0" y="1198.6" width="1200" height="1.4" fill="#4a4a4a"/>
</svg></body></html>
